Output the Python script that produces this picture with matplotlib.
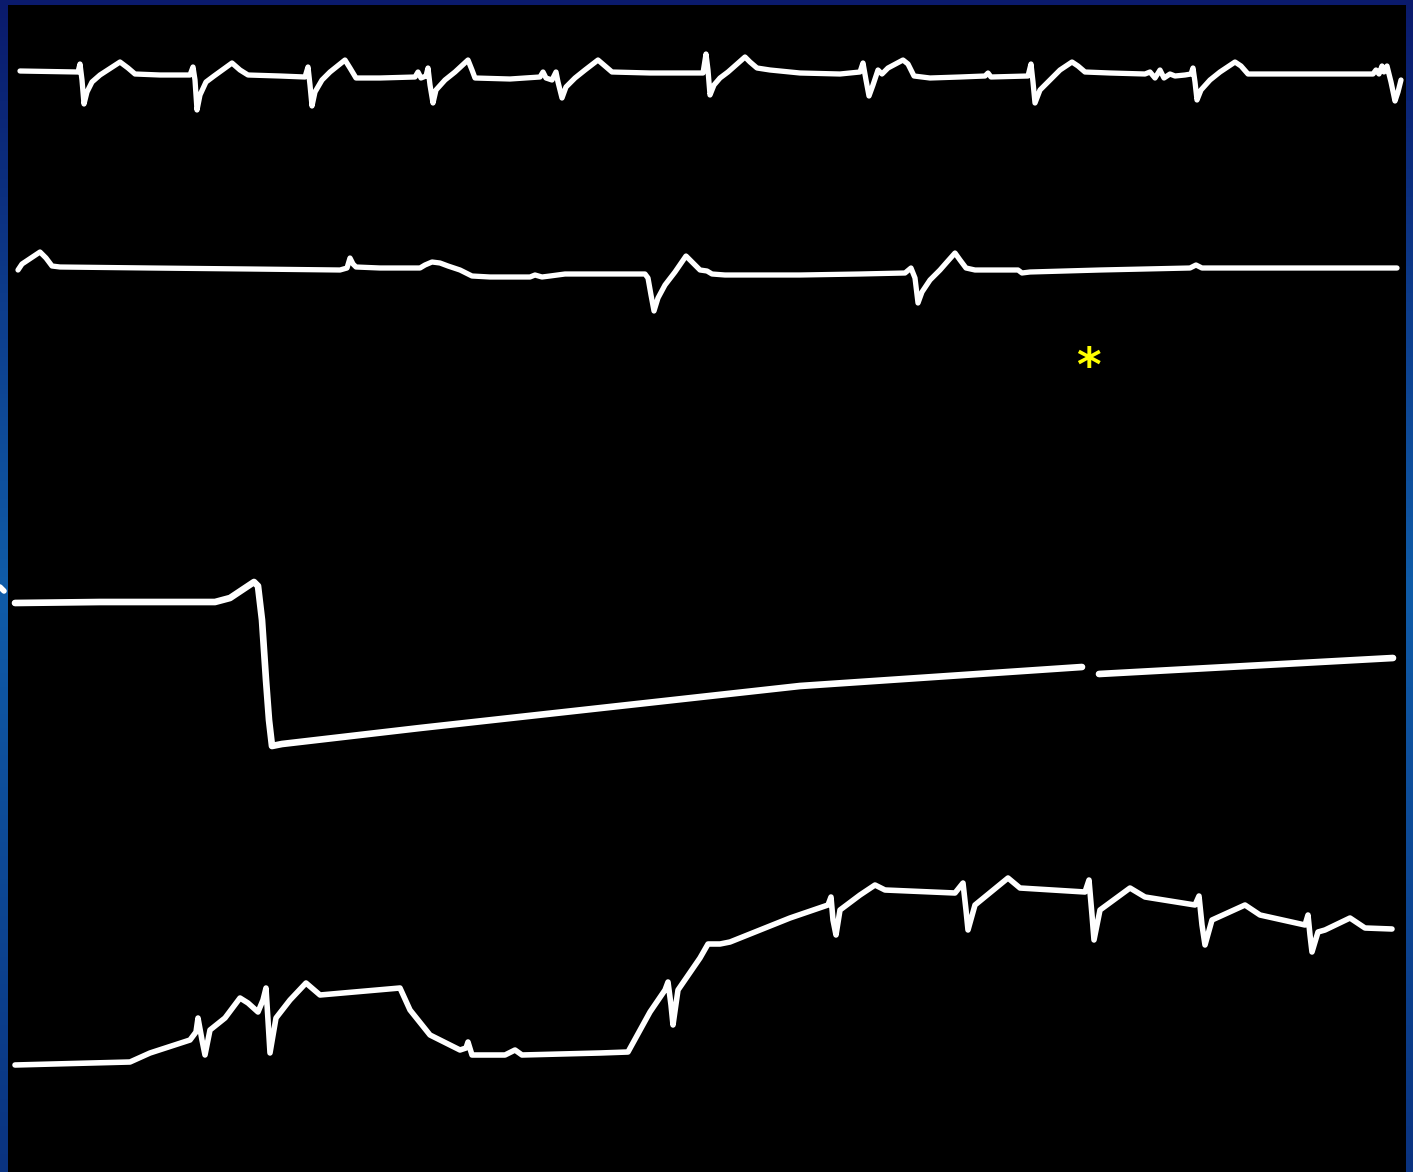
import numpy as np
import matplotlib
matplotlib.use("Agg")
import matplotlib.pyplot as plt
from matplotlib.colors import LinearSegmentedColormap

# ---- data: traces (time position, deflection) ----
lead1_t = [20, 78, 80, 82, 84, 87, 92, 100, 120, 128, 135, 160, 190, 193, 195, 197, 200, 206, 214, 232, 240, 248,
           280, 305, 308, 310, 312, 315, 322, 330, 345, 350, 356, 380, 415, 418, 421, 426, 428, 430, 433, 436, 445,
           455, 468, 472, 475, 510, 540, 543, 546, 552, 556, 558, 562, 566, 575, 585, 598, 605, 612, 650, 703, 706,
           708, 710, 714, 720, 728, 745, 750, 757, 770, 800, 840, 860, 863, 866, 869, 873, 878, 882, 888, 903, 908,
           914, 930, 960, 985, 988, 991, 1028, 1031, 1033, 1035, 1040, 1050, 1060, 1072, 1078, 1085, 1110, 1145,
           1150, 1155, 1160, 1164, 1170, 1175, 1185, 1191, 1193, 1195, 1197, 1201, 1210, 1220, 1235, 1241, 1248,
           1300, 1373, 1376, 1379, 1382, 1384, 1387, 1391, 1395, 1398, 1401]
lead1_v = [71, 72, 64, 80, 104, 92, 82, 75, 62, 68, 74, 75, 75, 67, 80, 110, 95, 82, 76, 63, 70, 75,
           76, 77, 67, 85, 106, 92, 80, 72, 60, 68, 78, 78, 77, 72, 78, 76, 68, 85, 103, 90, 80,
           72, 60, 70, 78, 79, 77, 72, 78, 80, 72, 82, 98, 87, 78, 70, 60, 66, 72, 73, 73, 54,
           70, 95, 85, 78, 72, 57, 62, 68, 70, 73, 74, 72, 63, 80, 96, 85, 70, 74, 68, 60, 64,
           76, 78, 77, 76, 73, 77, 76, 64, 82, 103, 90, 80, 70, 62, 66, 72, 73, 74,
           72, 78, 70, 78, 74, 76, 75, 74, 68, 82, 100, 90, 80, 72, 62, 66, 74,
           74, 74, 70, 74, 66, 72, 66, 82, 101, 92, 80]

lead2_t = [18, 22, 40, 46, 52, 60, 150, 250, 340, 347, 350, 353, 356, 380, 420, 425, 432, 440, 448, 460, 472, 490,
           530, 535, 542, 550, 565, 600, 645, 648, 651, 654, 658, 665, 675, 686, 692, 700, 707, 712, 725, 800, 860,
           905, 911, 915, 918, 922, 930, 940, 947, 955, 960, 966, 975, 1018, 1022, 1030, 1100, 1190, 1196, 1202,
           1300, 1397]
lead2_v = [270, 264, 252, 258, 266, 267, 268, 269, 270, 268, 258, 264, 267, 268, 268, 265, 262, 263, 266, 270, 276, 277,
           277, 275, 277, 276, 274, 274, 274, 278, 295, 311, 298, 285, 272, 256, 262, 270, 271, 274, 275, 275, 274,
           273, 268, 278, 303, 292, 280, 270, 262, 253, 260, 268, 270, 270, 273, 272, 270, 268, 265, 268,
           268, 268]

pressA_t = [15, 100, 215, 230, 242, 254, 258, 262, 266, 269, 272, 282, 420, 800, 1082]
pressA_v = [603, 602, 602, 598, 590, 582, 586, 620, 680, 720, 746, 744, 728, 686, 667]
pressB_t = [1099, 1393]
pressB_v = [674, 658]

lead4_t = [15, 130, 150, 190, 196, 198, 202, 205, 210, 225, 240, 248, 258, 263, 266, 268, 270, 276, 290, 306,
           320, 400, 410, 430, 460, 466, 468, 472, 505, 515, 522, 600, 628, 650, 665, 668, 671, 673, 678, 700,
           708, 720, 730, 790, 828, 831, 833, 836, 840, 860, 875, 885, 955, 963, 966, 968, 975, 1008, 1020,
           1085, 1089, 1092, 1094, 1100, 1130, 1145, 1195, 1199, 1202, 1205, 1212, 1245, 1260, 1305, 1308,
           1310, 1312, 1318, 1325, 1350, 1365, 1392]
lead4_v = [1065, 1062, 1053, 1040, 1032, 1018, 1040, 1055, 1030, 1018, 998, 1003, 1012, 1000, 988, 1020, 1053,
           1018, 1000, 983, 995, 988, 1010, 1035, 1050, 1048, 1042, 1055, 1055, 1050, 1055, 1053, 1052,
           1012, 990, 982, 1005, 1025, 990, 958, 944, 944, 942, 918, 905, 897, 920, 935, 910, 895, 885, 890,
           893, 883, 910, 930, 905, 878, 888, 892, 880, 915, 940, 910, 888, 897, 905, 896, 925, 945, 920,
           905, 915, 925, 915, 935, 952, 932, 930, 918, 928, 929]

marker_text = "*"
marker_pos = (1088, 358)

# ---- figure ----
W, H = 1413, 1172
fig = plt.figure(figsize=(W / 100, H / 100), dpi=100)

# blue gradient background frame
bg = fig.add_axes([0, 0, 1, 1])
cmap = LinearSegmentedColormap.from_list("frame", [(0.0, "#0a1a6c"), (0.5, "#105ca8"), (1.0, "#0a3380")])
grad = np.linspace(0, 1, 256).reshape(-1, 1)
bg.imshow(grad, aspect="auto", cmap=cmap, extent=[0, W, H, 0])
bg.set_xlim(0, W)
bg.set_ylim(H, 0)
bg.axis("off")
# small white fragment on left border
bg.plot([0, 4], [587, 591], color="white", lw=4, solid_capstyle="round")

x0, x1, y0, y1 = 8, 1406, 5, 1172
ax = fig.add_axes([x0 / W, 1 - y1 / H, (x1 - x0) / W, (y1 - y0) / H])
ax.set_facecolor("black")
ax.set_xlim(x0, x1)
ax.set_ylim(y1, y0)
ax.set_xticks([])
ax.set_yticks([])
for s in ax.spines.values():
    s.set_visible(False)

kw = dict(color="white", solid_joinstyle="round", solid_capstyle="round")
ax.plot(lead1_t, lead1_v, lw=3.8, **kw)
ax.plot(lead2_t, lead2_v, lw=3.8, **kw)
ax.plot(pressA_t, pressA_v, lw=4.8, **kw)
ax.plot(pressB_t, pressB_v, lw=4.8, **kw)
ax.plot(lead4_t, lead4_v, lw=4.0, **kw)

ax.text(marker_pos[0], marker_pos[1] + 10, marker_text, color="#ffff00", fontsize=34,
        ha="center", va="center", fontweight="bold")

fig.savefig("out.png", dpi=100, facecolor=fig.get_facecolor())
